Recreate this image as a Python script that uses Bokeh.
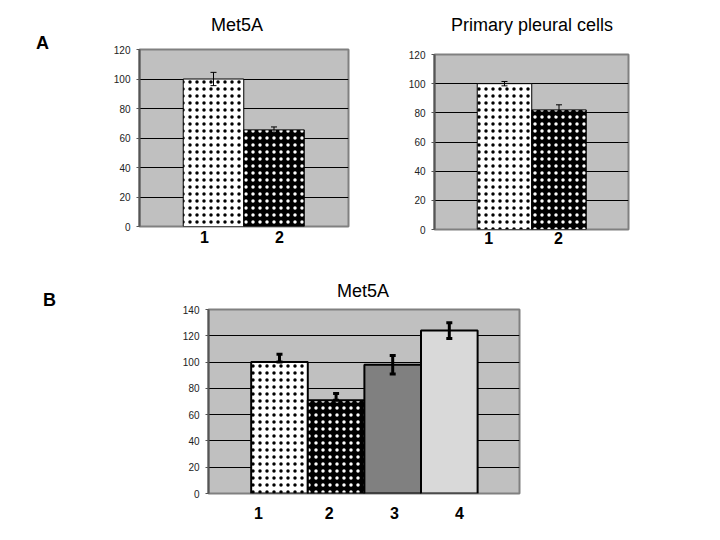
from bokeh.plotting import figure
from bokeh.models import ColumnDataSource, Whisker, FixedTicker, TeeHead, Range1d, Div
from bokeh.layouts import column, row
from bokeh.core.properties import value
from bokeh.embed import file_html
from bokeh.resources import INLINE

FONT = "Liberation Sans"

# ---------------- data ----------------
a1_title = "Met5A"
a1_labels = ["1", "2"]
a1_values = [100, 65.5]
a1_err_up = [4.5, 2]
a1_err_down = [4.5, 2]
a1_fills = ["white", "black"]
a1_hatch = ["dot", "dot"]
a1_hatch_colors = ["black", "white"]
a1_yticks = [0, 20, 40, 60, 80, 100, 120]

a2_title = "Primary pleural cells"
a2_labels = ["1", "2"]
a2_values = [100, 82]
a2_err_up = [1.5, 3.5]
a2_err_down = [1.5, 3.5]
a2_fills = ["white", "black"]
a2_hatch = ["dot", "dot"]
a2_hatch_colors = ["black", "white"]
a2_yticks = [0, 20, 40, 60, 80, 100, 120]

b_title = "Met5A"
b_labels = ["1", "2", "3", "4"]
b_values = [100, 71, 98, 124]
b_err_up = [6, 5, 7, 6]
b_err_down = [0, 0, 7, 6]
b_fills = ["white", "black", "#808080", "#d9d9d9"]
b_hatch = ["dot", "dot", " ", " "]
b_hatch_colors = ["black", "white", "black", "black"]
b_yticks = [0, 20, 40, 60, 80, 100, 120, 140]

panel_letters = ["A", "B"]


def panel(labels, values, err_up, err_down, fills, hatch, hatch_colors, yticks,
          x_start, x_end, label_pos, borders, frame_w, frame_h, label_standoff,
          bar_lw, err_lw, head):
    bl, br, bt, bb = borders
    xs = list(range(1, len(values) + 1))
    p = figure(width=bl + frame_w + br, height=bt + frame_h + bb,
               output_backend="svg", toolbar_location=None,
               x_range=Range1d(x_start, x_end), y_range=Range1d(yticks[0], yticks[-1]),
               min_border_left=bl, min_border_right=br, min_border_top=bt, min_border_bottom=bb)
    p.background_fill_color = "#c0c0c0"
    p.border_fill_color = "white"
    p.outline_line_color = "#808080"
    p.outline_line_width = 2

    groups = []
    for h, hc in zip(hatch, hatch_colors):
        if (h, hc) not in groups:
            groups.append((h, hc))
    for h, hc in groups:
        idx = [i for i in range(len(values)) if hatch[i] == h and hatch_colors[i] == hc]
        sub = ColumnDataSource(dict(x=[xs[i] for i in idx], top=[values[i] for i in idx],
                                    fill=[fills[i] for i in idx]))
        p.vbar(x="x", top="top", bottom=0, width=1.0, source=sub, fill_color="fill",
               hatch_pattern=value(h), hatch_color=hc, hatch_scale=7, hatch_weight=0.5,
               line_color="black", line_width=bar_lw)

    src = ColumnDataSource(dict(
        x=xs,
        upper=[v + e for v, e in zip(values, err_up)],
        lower=[v - e for v, e in zip(values, err_down)],
    ))
    w = Whisker(base="x", upper="upper", lower="lower", source=src, level="overlay",
                line_color="black", line_width=err_lw,
                upper_head=TeeHead(size=head, line_color="black", line_width=err_lw),
                lower_head=TeeHead(size=head, line_color="black", line_width=err_lw))
    p.add_layout(w)

    p.xaxis.ticker = FixedTicker(ticks=label_pos)
    p.xaxis.major_label_overrides = {x: l for x, l in zip(label_pos, labels)}
    p.xaxis.axis_line_color = None
    p.xaxis.major_tick_line_color = None
    p.xaxis.minor_tick_line_color = None
    p.xaxis.major_label_text_font = FONT
    p.xaxis.major_label_text_font_style = "bold"
    p.xaxis.major_label_text_font_size = "16px"
    p.xaxis.major_label_text_color = "black"
    p.xaxis.major_label_standoff = label_standoff

    p.yaxis.ticker = FixedTicker(ticks=yticks)
    p.yaxis.axis_line_color = "#555555"
    p.yaxis.axis_line_width = 2
    p.yaxis.major_tick_line_color = "#555555"
    p.yaxis.major_tick_out = 3
    p.yaxis.major_tick_in = 0
    p.yaxis.minor_tick_line_color = None
    p.yaxis.major_label_text_font = FONT
    p.yaxis.major_label_text_font_size = "10px"
    p.yaxis.major_label_text_color = "#222222"
    p.yaxis.major_label_standoff = 6

    p.xgrid.grid_line_color = None
    p.ygrid.ticker = FixedTicker(ticks=yticks[1:-1])
    p.ygrid.grid_line_color = "black"
    p.ygrid.grid_line_width = 1
    return p


def title_div(txt, width, center, top):
    html = ('<div style="margin-left:%dpx;width:200px;padding-top:%dpx;text-align:center;'
            'font-family:\'%s\';font-size:18px;line-height:22px;color:black;">%s</div>'
            % (center - 100, top, FONT, txt))
    return Div(text=html, width=width, height=36, margin=0)


def letter(txt, pad_left, pad_top):
    return Div(text=txt, width=60, height=60, margin=0,
               styles={"font-family": FONT, "font-size": "18px", "font-weight": "bold",
                       "line-height": "20px", "padding-left": f"{pad_left}px",
                       "padding-top": f"{pad_top}px", "color": "black"})


pa1 = panel(a1_labels, a1_values, a1_err_up, a1_err_down, a1_fills, a1_hatch, a1_hatch_colors,
            a1_yticks, -0.223, 3.231, [0.85, 2.09], (79, 22, 13, 34), 209, 177, -2, 1, 1, 6)
pa2 = panel(a2_labels, a2_values, a2_err_up, a2_err_down, a2_fills, a2_hatch, a2_hatch_colors,
            a2_yticks, -0.284, 3.275, [0.71, 1.99], (64, 22, 18, 34), 194, 175, -4, 1, 1, 6)
pb = panel(b_labels, b_values, b_err_up, b_err_down, b_fills, b_hatch, b_hatch_colors,
           b_yticks, -0.254, 5.24, [0.63, 1.88, 3.03, 4.18], (148, 20, 10, 36), 311, 184, 7,
           2, 3, 6)

ta1 = title_div(a1_title, pa1.width, 177, 14)
ta2 = title_div(a2_title, pa2.width, 162, 14)
tb = title_div(b_title, pb.width, 303, 17)

divA = letter(panel_letters[0], 36, 33)
divB = letter(panel_letters[1], 43, 27)

layout = column(row(divA, column(ta1, pa1), column(ta2, pa2)),
                row(divB, column(tb, pb)))
open("out.html", "w").write(file_html(layout, INLINE))
